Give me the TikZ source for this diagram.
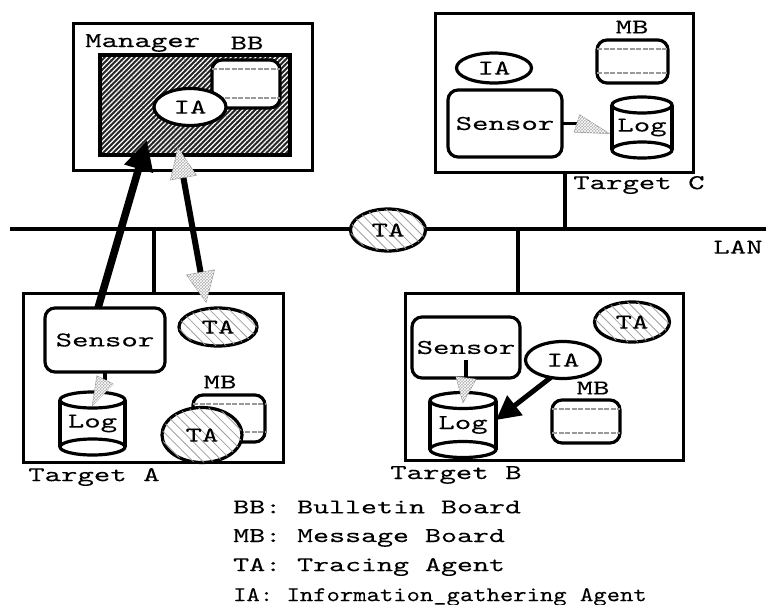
\documentclass[tikz,border=0pt]{standalone}
\usepackage{graphicx}
\usepackage{fontspec}
\newfontfamily\courfont{lmmono10-regular.otf}[FakeBold=0.06]
\usetikzlibrary{shapes.geometric,arrows.meta,patterns,patterns.meta,calc}
\newcommand\wt[2][1.49]{\scalebox{#1}[1]{#2}}
\newcommand\lblfont{\fontsize{21pt}{23pt}\selectfont\courfont}
\newcommand\cyl[3]{%
  \draw[cylline] ([yshift=-#3]#1.north west) -- ([yshift=#3]#1.south west);
  \draw[cylline] ([yshift=-#3]#1.north east) -- ([yshift=#3]#1.south east);
  \draw[cylline] ([yshift=-#3]#1.north) ellipse [x radius=#2, y radius=#3];
  \draw[cylline] ([yshift=#3]#1.south) ellipse [x radius=#2, y radius=#3];}
\newcommand\mblines[1]{%
  \draw[mbline] ([yshift=-9pt]#1.north west) -- ([yshift=-9pt]#1.north east);
  \draw[mbline] ([yshift=10pt]#1.south west) -- ([yshift=10pt]#1.south east);}
\newcommand\ghead[3]{%
  \filldraw[ghead] ($(#1)!#3!90:(#2)$) -- (#2) -- ($(#1)!#3!-90:(#2)$) -- cycle;}
\tikzset{
 frame/.style={draw=black, line width=3pt, inner sep=0pt, outer sep=0pt},
 rbox/.style={draw=black, line width=3.2pt, rounded corners=10pt, fill=white, inner sep=0pt, outer sep=0pt, font=\lblfont, text=black},
 ell/.style={draw=black, ellipse, line width=3.2pt, fill=white, inner sep=0pt, outer sep=0pt, font=\lblfont, text=black},
 ta/.style={ell, postaction={pattern={Lines[angle=-45,distance=7pt,line width=0.8pt]}, pattern color=gray!75}},
 lbl/.style={font=\lblfont, text=black, inner sep=0pt},
 logbox/.style={inner sep=0pt, outer sep=0pt, font=\lblfont, text=black},
 cylline/.style={draw=black, line width=3.2pt},
 mbline/.style={draw=gray!80, line width=1.1pt, dash pattern=on 5pt off 1.5pt},
 ghead/.style={fill=gray!60, draw=gray!85, line width=0.8pt, postaction={pattern=crosshatch, pattern color=white}},
 lan/.style={line width=3.2pt, draw=black},
}
\begin{document}
\begin{tikzpicture}[x=1pt,y=-1pt]
\useasboundingbox (0,0) rectangle (766,605);

% LAN
\coordinate (lanL) at (10,229);
\coordinate (lanR) at (766,229);
\coordinate (lanA) at (154,229);
\coordinate (lanB) at (518,229);
\coordinate (lanC) at (565,229);
\draw[lan] (lanL) -- (lanR);

% frames
\node[frame, minimum width=239pt, minimum height=147pt] (mgr) at (192.5,96.5) {};
\node[frame, minimum width=258pt, minimum height=159pt] (tC) at (564,92.5) {};
\node[frame, minimum width=260pt, minimum height=169pt] (tA) at (153,377.5) {};
\node[frame, minimum width=278pt, minimum height=167pt] (tB) at (544,376.5) {};

\draw[lan] (lanA) -- (lanA |- tA.north);
\draw[lan] (lanB) -- (lanB |- tB.north);
\draw[lan] (lanC) -- (lanC |- tC.south);

% Manager
\node[lbl, anchor=west] (mgrLbl) at (85,43) {\wt{Manager}};
\node[lbl] (bbLbl) at (247,43) {\wt{BB}};
\node[frame, fill=black!85, minimum width=190pt, minimum height=100pt] (bbArea) at (195,105) {};
\path[pattern={Lines[angle=45,distance=3.5pt,line width=1.2pt]}, pattern color=white] (bbArea.south west) rectangle (bbArea.north east);
\draw[line width=3.4pt, black] (bbArea.south west) rectangle (bbArea.north east);
\node[rbox, minimum width=68pt, minimum height=48pt] (bbBoard) at (246,84) {};
\mblines{bbBoard}
\node[ell, minimum width=72pt, minimum height=37pt] (iaM) at (190,107) {\wt{IA}};

% Target C
\node[lbl] (mbCLbl) at (632,27) {\wt{MB}};
\node[rbox, minimum width=71pt, minimum height=43pt] (mbC) at (632.5,61.5) {};
\mblines{mbC}
\node[ell, minimum width=75pt, minimum height=30pt] (iaC) at (494,68) {\wt{IA}};
\node[rbox, minimum width=114pt, minimum height=67pt] (sensorC) at (505,123.5) {\wt{Sensor}};
\node[logbox, minimum width=60pt, minimum height=61pt] (logC) at (642,127.5) {\wt{Log}};
\cyl{logC}{30pt}{8pt}
\node[lbl, anchor=west] (tCLbl) at (573,185) {\wt{Target C}};
\node[lbl] (lanLbl) at (738,247) {\wt{LAN}};

% LAN TA
\node[ta, minimum width=75pt, minimum height=42pt] (taLan) at (388,230) {\wt{TA}};

% Target A
\node[rbox, minimum width=120pt, minimum height=64pt] (sensorA) at (105,340) {\wt{Sensor}};
\node[logbox, minimum width=65pt, minimum height=63pt] (logA) at (92.5,423.5) {\wt{Log}};
\cyl{logA}{32.5pt}{8pt}
\node[ta, minimum width=78pt, minimum height=38pt] (taA1) at (218,327) {\wt{TA}};
\node[lbl] (mbALbl) at (220,382) {\wt{MB}};
\node[rbox, minimum width=72pt, minimum height=47pt] (mbA) at (229,418.5) {};
\mblines{mbA}
\node[ta, minimum width=80pt, minimum height=55pt] (taA2) at (202,435) {\wt{TA}};
\node[lbl, anchor=west] (tALbl) at (28,477) {\wt{Target A}};

% Target B
\node[rbox, minimum width=108pt, minimum height=61pt] (sensorB) at (466,347.5) {\wt{Sensor}};
\node[logbox, minimum width=66pt, minimum height=65pt] (logB) at (463,425) {\wt{Log}};
\cyl{logB}{33pt}{8pt}
\node[ta, minimum width=75pt, minimum height=40pt] (taB) at (632,322) {\wt{TA}};
\node[ell, minimum width=75pt, minimum height=37pt] (iaB) at (563,360) {\wt{IA}};
\node[lbl] (mbBLbl) at (593,388) {\wt{MB}};
\node[rbox, minimum width=68pt, minimum height=43pt] (mbB) at (586,421.5) {};
\mblines{mbB}
\node[lbl, anchor=west] (tBLbl) at (390,475) {\wt{Target B}};

% arrows
\coordinate (m1) at (147,140);
\coordinate (m2) at (178,148);
\coordinate (taAtip) at ([xshift=-12pt,yshift=6pt]taA1.north);
\draw[line width=7.5pt, black, -{Triangle[length=30pt,width=28pt]}] ([xshift=-7pt]sensorA.north) -- (m1);
\draw[line width=6pt, black] ($(m2)!28pt!(taAtip)$) -- ($(taAtip)!28pt!(m2)$);
\ghead{$(m2)!30pt!(taAtip)$}{m2}{13pt}
\ghead{$(taAtip)!30pt!(m2)$}{taAtip}{14pt}

% sensor -> log (A)
\draw[line width=3.5pt, black] (sensorA.south) -- ([yshift=-8pt]sensorA.south);
\ghead{[yshift=-8pt]sensorA.south}{[yshift=-13pt]logA.north}{9pt}
% sensor -> log (B)
\draw[line width=3.5pt, black] ([yshift=18pt]sensorB.south) -- (sensorB.south);
\ghead{sensorB.south}{[yshift=-10pt]logB.north}{10pt}
% sensor -> log (C)
\draw[line width=3.5pt, black] (sensorC.east) -- ([xshift=15pt]sensorC.east);
\ghead{[xshift=15pt]sensorC.east}{[xshift=-3pt,yshift=-6pt]logC.west}{9pt}
% IA -> Log (B)
\draw[line width=5pt, black, -{Triangle[length=24pt,width=24pt]}] (iaB.235) -- ([yshift=5pt]logB.east);

% legend
\node[lbl, anchor=west] (lgBB) at (233,507) {\wt[1.45]{BB: Bulletin Board}};
\node[lbl, anchor=west] (lgMB) at (233,538) {\wt[1.45]{MB: Message Board}};
\node[lbl, anchor=west] (lgTA) at (233,567) {\wt[1.45]{TA: Tracing Agent}};
\node[lbl, anchor=west] (lgIA) at (233,597) {\wt[1.21]{IA: Information\_gathering Agent}};
\end{tikzpicture}
\end{document}
